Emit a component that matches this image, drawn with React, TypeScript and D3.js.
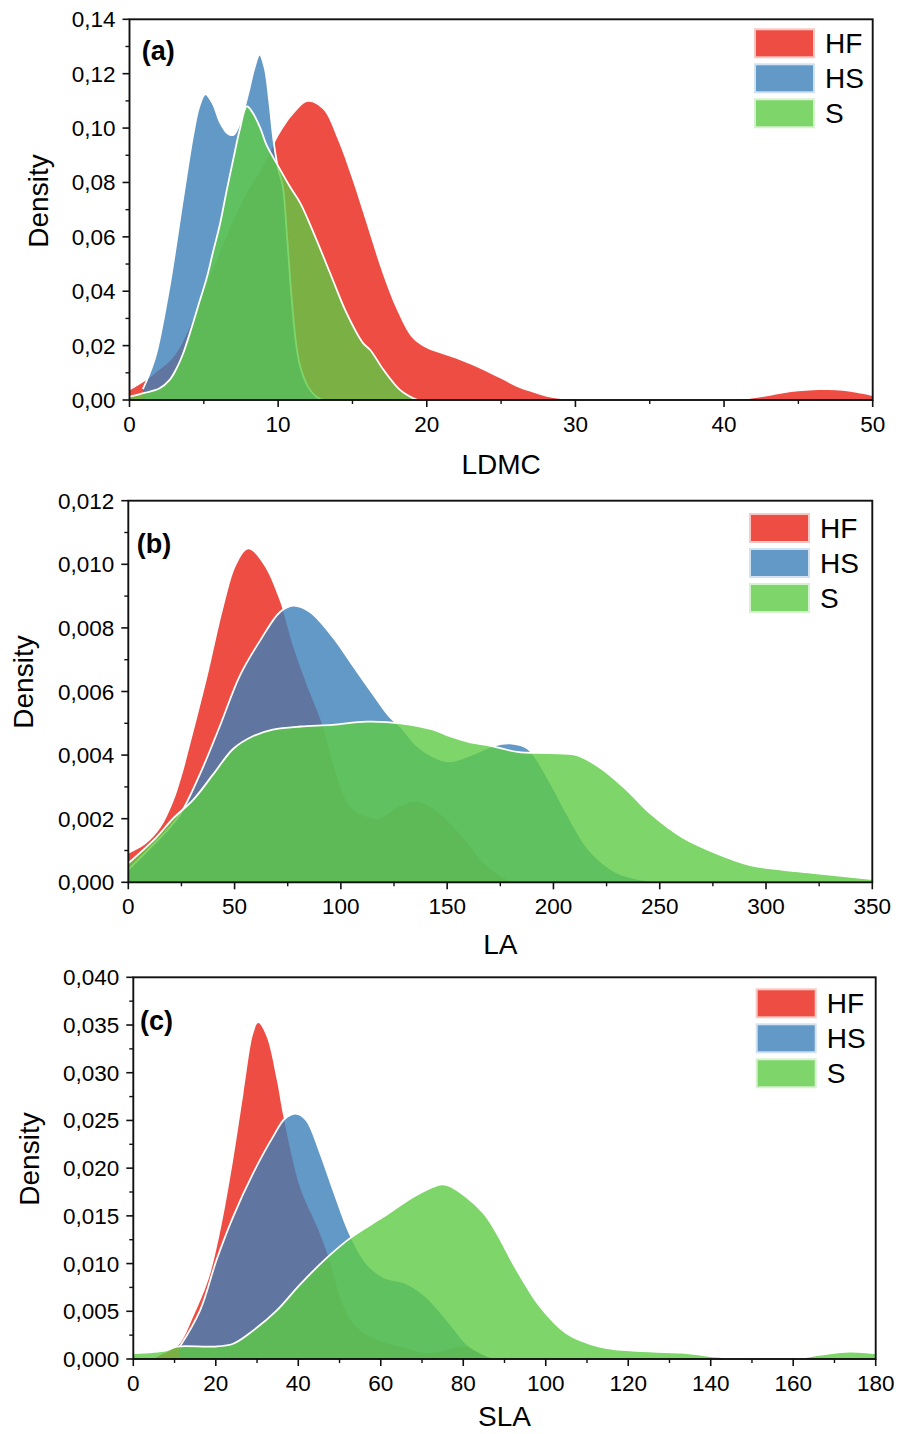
import React from "react";
import * as d3 from "d3";

type Pt = [number, number];

const FONT = "'Liberation Sans', Arial, Helvetica, sans-serif";

const groups = ["HF", "HS", "S"];
// fill colours drawn at 0.8 opacity, legend colours are the same over white
const fillBase = ["#EA2015", "#3C80B8", "#5ECA45"];
const legendFill = ["#EE4D44", "#6399C6", "#7ED56A"];
const legendEdge = ["#F8C6C3", "#D2E2F0", "#D6F1CF"];

// (a) LDMC
const ldmcHF: Pt[] = [[0, 0.0035], [1, 0.0068], [2, 0.011], [3, 0.016], [4, 0.026], [5, 0.04], [6, 0.053], [7, 0.066], [8, 0.077], [9, 0.086], [10, 0.097], [11, 0.105], [12, 0.1097], [13, 0.107], [14, 0.096], [15, 0.081], [16, 0.064], [17, 0.047], [18, 0.033], [19, 0.023], [20, 0.019], [21, 0.017], [22, 0.0152], [23, 0.013], [24, 0.0105], [25, 0.0078], [26, 0.005], [27, 0.003], [28, 0.0013], [29, 0.0004], [30, 0], [41, 0], [42, 0.0006], [43, 0.0015], [44, 0.0025], [45, 0.0032], [46, 0.0036], [47, 0.0037], [48, 0.0034], [49, 0.0026], [50, 0.0015]];
const ldmcHS: Pt[] = [[0.9, 0.004], [1.3, 0.009], [1.8, 0.017], [2.7, 0.042], [3.6, 0.074], [4.3, 0.098], [4.7, 0.108], [5.1, 0.1125], [5.6, 0.109], [6.1, 0.102], [6.6, 0.098], [7, 0.0975], [7.5, 0.103], [8, 0.113], [8.4, 0.122], [8.75, 0.127], [9.1, 0.122], [9.4, 0.11], [9.7, 0.095], [10, 0.085], [10.3, 0.079], [10.6, 0.06], [10.9, 0.038], [11.2, 0.021], [11.5, 0.012], [12, 0.005], [12.5, 0.0015], [13, 0]];
const ldmcS: Pt[] = [[0, 0.0012], [1, 0.0026], [2, 0.0042], [2.7, 0.0074], [3.2, 0.012], [3.6, 0.017], [4.2, 0.027], [4.7, 0.036], [5.2, 0.045], [5.6, 0.054], [6.1, 0.065], [6.5, 0.076], [7, 0.089], [7.4, 0.099], [7.9, 0.108], [8.3, 0.1055], [8.8, 0.1], [9.2, 0.094], [9.9, 0.087], [10.8, 0.0784], [11.5, 0.0723], [12.4, 0.0613], [13.5, 0.0466], [14.6, 0.032], [15.7, 0.021], [16.2, 0.0184], [17.1, 0.011], [18.2, 0.0037], [19.1, 0.0006], [19.4, 0]];
const ldmcXTicks = [0, 10, 20, 30, 40, 50];
const ldmcYTicks = [0, 0.02, 0.04, 0.06, 0.08, 0.1, 0.12, 0.14];

// (b) LA
const laHF: Pt[] = [[0, 0.0009], [8, 0.0012], [15, 0.0017], [21, 0.0025], [25, 0.0033], [29, 0.0043], [37, 0.0064], [45, 0.0087], [51, 0.01], [56.5, 0.01047], [63.5, 0.01], [71, 0.0089], [77.6, 0.0074], [84, 0.0062], [91, 0.005], [96.4, 0.0037], [104, 0.0024], [112, 0.00206], [118, 0.002], [128, 0.0024], [136, 0.00253], [143.5, 0.0023], [151, 0.00186], [160, 0.0012], [167, 0.0006], [175, 0.0002], [180, 0]];
const laHS: Pt[] = [[0, 0.0004], [12, 0.0012], [24, 0.0021], [33.7, 0.0034], [43, 0.0049], [52.5, 0.0065], [62, 0.0076], [71.4, 0.0085], [77.6, 0.0087], [85.5, 0.0085], [96.4, 0.0077], [105.8, 0.0068], [115.3, 0.0059], [123, 0.0052], [128, 0.0049], [135.7, 0.0043], [143.5, 0.00395], [151, 0.0038], [161, 0.004], [172, 0.0043], [179.6, 0.00437], [188, 0.0042], [198, 0.0032], [206, 0.0022], [217, 0.001], [230, 0.0003], [250, 0]];
const laS: Pt[] = [[0, 0.0006], [13, 0.0014], [21, 0.002], [30.6, 0.0026], [40, 0.0034], [49.4, 0.0042], [58.8, 0.0046], [68, 0.0048], [81, 0.0049], [96, 0.00495], [112, 0.00505], [128, 0.005], [143.5, 0.0048], [151, 0.0046], [161, 0.0044], [170, 0.0043], [183, 0.0041], [198, 0.00406], [211, 0.004], [222, 0.0036], [234.5, 0.0029], [245, 0.0022], [261, 0.0014], [277, 0.0009], [292.5, 0.00054], [308, 0.00039], [324, 0.00028], [350, 0.0001]];
const laXTicks = [0, 50, 100, 150, 200, 250, 300, 350];
const laYTicks = [0, 0.002, 0.004, 0.006, 0.008, 0.01, 0.012];

// (c) SLA
const slaHF: Pt[] = [[5, 0], [6.5, 0.0004], [9, 0.0009], [11.3, 0.0016], [14.5, 0.0044], [18.2, 0.0083], [21, 0.0132], [24.2, 0.0208], [26.7, 0.0278], [29.1, 0.0341], [30.3, 0.0352], [32.3, 0.0338], [34.8, 0.0292], [36.4, 0.0254], [40.4, 0.018], [44.5, 0.0139], [47.3, 0.0107], [49.3, 0.0076], [51.7, 0.0048], [55, 0.003], [59, 0.002], [64.7, 0.0013], [71, 0.0006], [75, 0.0008], [80, 0.0013], [85, 0.0005], [88, 0]];
const slaHS: Pt[] = [[11.3, 0.0013], [16.2, 0.0051], [20.2, 0.0104], [24.2, 0.0149], [29.1, 0.0195], [33.9, 0.0233], [36.8, 0.0252], [39.6, 0.0257], [42, 0.025], [45.3, 0.0216], [48.5, 0.0177], [52.4, 0.0132], [56.6, 0.01], [60.6, 0.0086], [66.3, 0.0079], [71.1, 0.0065], [76.8, 0.0037], [80.8, 0.0016], [84.9, 0.0005], [88, 0]];
const slaS: Pt[] = [[0, 0.0006], [8, 0.0009], [10.5, 0.0013], [19.4, 0.0013], [24.2, 0.0016], [29.1, 0.003], [34.8, 0.0051], [40.4, 0.0078], [46.9, 0.0106], [53, 0.0128], [60.6, 0.0149], [68.7, 0.0172], [74.8, 0.0183], [76.8, 0.0181], [84.9, 0.0153], [93, 0.0093], [98.6, 0.0055], [105, 0.0027], [113, 0.0013], [121, 0.00087], [133, 0.00066], [141.5, 0.00024], [147, 0], [160, 0], [165.7, 0.0004], [173.8, 0.00077], [180, 0.0006]];
const slaXTicks = [0, 20, 40, 60, 80, 100, 120, 140, 160, 180];
const slaYTicks = [0, 0.005, 0.01, 0.015, 0.02, 0.025, 0.03, 0.035, 0.04];

const locale = d3.formatLocale({ decimal: ",", thousands: ".", grouping: [3], currency: ["", ""] });

const panels = [
  {
    id: "a", label: "(a)", title: "LDMC", series: [ldmcHF, ldmcHS, ldmcS],
    xTicks: ldmcXTicks, xMinorStep: 5, yTicks: ldmcYTicks, yMinorStep: 0.01, yFmt: ".2f",
    box: { l: 129.5, r: 872.7, t: 19.3, b: 400 }, titleDy: 74,
    labelPos: [141.7, 60], legendPos: [755, 29.3], yTitlePos: [48, 201],
  },
  {
    id: "b", label: "(b)", title: "LA", series: [laHF, laHS, laS],
    xTicks: laXTicks, xMinorStep: 25, yTicks: laYTicks, yMinorStep: 0.001, yFmt: ".3f",
    box: { l: 128.3, r: 872.3, t: 500.7, b: 882.3 }, titleDy: 72,
    labelPos: [136.7, 553], legendPos: [750, 514], yTitlePos: [33, 682],
  },
  {
    id: "c", label: "(c)", title: "SLA", series: [slaHF, slaHS, slaS],
    xTicks: slaXTicks, xMinorStep: 10, yTicks: slaYTicks, yMinorStep: 0.0025, yFmt: ".3f",
    box: { l: 133.3, r: 875.7, t: 977.3, b: 1359 }, titleDy: 67,
    labelPos: [140, 1030], legendPos: [756.7, 989.3], yTitlePos: [38.5, 1159],
  },
];

function Panel({ p }: { p: any }) {
  const xTicks: number[] = p.xTicks;
  const yTicks: number[] = p.yTicks;
  const x = d3.scaleLinear().domain([xTicks[0], xTicks[xTicks.length - 1]]).range([p.box.l, p.box.r]);
  const y = d3.scaleLinear().domain([yTicks[0], yTicks[yTicks.length - 1]]).range([p.box.b, p.box.t]);

  // smooth density outlines; anything dipping under zero is clipped off
  const curve = d3.curveCatmullRom.alpha(0.5);
  const area = d3.area<Pt>().x(d => x(d[0])).y0(y(0)).y1(d => y(d[1])).curve(curve);
  const line = d3.line<Pt>().x(d => x(d[0])).y(d => y(d[1])).curve(curve);
  const fmt = locale.format(p.yFmt);

  const xMinor = d3.range(xTicks[0], xTicks[xTicks.length - 1] + 1e-9, p.xMinorStep)
    .filter(v => !xTicks.some(t => Math.abs(t - v) < 1e-9));
  const yMinor = d3.range(yTicks[0], yTicks[yTicks.length - 1] + 1e-9, p.yMinorStep)
    .filter(v => !yTicks.some(t => Math.abs(t - v) < 1e-9));

  const { l, r, t, b } = p.box;
  const clipId = `clip-${p.id}`;

  return (
    <g>
      <defs>
        <clipPath id={clipId}>
          <rect x={l} y={t} width={r - l} height={b - t} />
        </clipPath>
      </defs>

      <g clipPath={`url(#${clipId})`}>
        {p.series.map((s: Pt[], i: number) => (
          <g key={i}>
            <path d={area(s) || ""} fill={fillBase[i]} fillOpacity={0.8} />
            {i > 0 && (
              <path d={line(s) || ""} fill="none" stroke="#fff" strokeWidth={1.8} />
            )}
          </g>
        ))}
      </g>

      {/* frame */}
      <rect x={l} y={t} width={r - l} height={b - t} fill="none" stroke="#111" strokeWidth={1.9} />

      {/* x ticks */}
      {xTicks.map(v => (
        <g key={"x" + v}>
          <line x1={x(v)} x2={x(v)} y1={b} y2={b + 7} stroke="#111" strokeWidth={1.6} />
          <text x={x(v)} y={b + 31.5} textAnchor="middle" fontSize={22.5} fontFamily={FONT}>{v}</text>
        </g>
      ))}
      {xMinor.map(v => (
        <line key={"xm" + v} x1={x(v)} x2={x(v)} y1={b} y2={b + 4} stroke="#111" strokeWidth={1.4} />
      ))}

      {/* y ticks */}
      {yTicks.map(v => (
        <g key={"y" + v}>
          <line x1={l - 7} x2={l} y1={y(v)} y2={y(v)} stroke="#111" strokeWidth={1.6} />
          <text x={l - 14} y={y(v) + 8} textAnchor="end" fontSize={22.5} fontFamily={FONT}>{fmt(v)}</text>
        </g>
      ))}
      {yMinor.map(v => (
        <line key={"ym" + v} x1={l - 4} x2={l} y1={y(v)} y2={y(v)} stroke="#111" strokeWidth={1.4} />
      ))}

      {/* titles */}
      <text x={(l + r) / 2} y={b + p.titleDy} textAnchor="middle" fontSize={28} fontFamily={FONT}>{p.title}</text>
      <text transform={`translate(${p.yTitlePos[0]},${p.yTitlePos[1]}) rotate(-90)`} textAnchor="middle" fontSize={28} fontFamily={FONT}>Density</text>
      <text x={p.labelPos[0]} y={p.labelPos[1]} fontSize={27} fontWeight="bold" fontFamily={FONT}>{p.label}</text>

      {/* legend */}
      {groups.map((g, i) => (
        <g key={g} transform={`translate(${p.legendPos[0]},${p.legendPos[1] + i * 35})`}>
          <rect x={0} y={0} width={59} height={28} fill={legendFill[i]} stroke={legendEdge[i]} strokeWidth={2} />
          <text x={70} y={24} fontSize={28} fontFamily={FONT}>{g}</text>
        </g>
      ))}
    </g>
  );
}

export default function App() {
  return (
    <div style={{ position: "absolute", left: 0, top: 0 }}>
      <svg width={907} height={1434} style={{ display: "block", background: "#fff" }}>
        {panels.map(p => <Panel key={p.id} p={p} />)}
      </svg>
    </div>
  );
}
